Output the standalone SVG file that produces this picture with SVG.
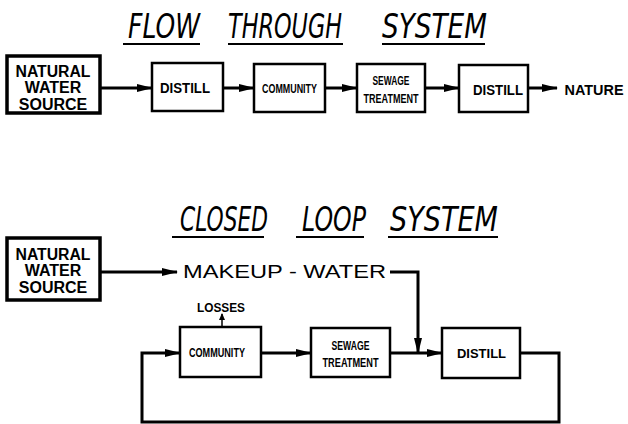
<svg xmlns="http://www.w3.org/2000/svg" width="628" height="424" viewBox="0 0 628 424">
<style>
.box{fill:#fff;stroke:#000;stroke-width:2.5}
.thick{stroke-width:3.5}
.lbl{font-family:"Liberation Sans",Arial,sans-serif;font-weight:bold;fill:#000;text-anchor:middle}
.title{font-family:"DejaVu Sans",sans-serif;font-style:italic;font-size:24px;fill:#000}
.ul{stroke:#000;stroke-width:2}
.ln{fill:none;stroke:#000;stroke-width:3}
</style>
<defs>
<marker id="ah" markerWidth="16" markerHeight="10" refX="15" refY="5" orient="auto" markerUnits="userSpaceOnUse">
<path d="M0,1 L16,5 L0,9 Z" fill="#000"/>
</marker>
<marker id="ahs" markerWidth="7" markerHeight="6" refX="6" refY="3" orient="auto" markerUnits="userSpaceOnUse">
<path d="M0,0 L7,3 L0,6 Z" fill="#000"/>
</marker>
</defs>
<g id="title1">
<g transform="scale(1,1.4)">
<text class="title" x="128" y="27.1" textLength="72" lengthAdjust="spacingAndGlyphs">FLOW</text>
<text class="title" x="228" y="27.1" textLength="114" lengthAdjust="spacingAndGlyphs">THROUGH</text>
<text class="title" x="382" y="27.1" textLength="105" lengthAdjust="spacingAndGlyphs">SYSTEM</text>
</g>
<line class="ul" x1="123" y1="44" x2="200" y2="44"/>
<line class="ul" x1="228" y1="44" x2="343" y2="44"/>
<line class="ul" x1="382" y1="44" x2="485" y2="44"/>
</g>
<g id="t_source">
<rect class="box thick" x="7" y="56" width="93" height="57"/>
<text class="lbl" font-size="16" x="53" y="77" textLength="75" lengthAdjust="spacingAndGlyphs">NATURAL</text>
<text class="lbl" font-size="16" x="53" y="93">WATER</text>
<text class="lbl" font-size="16" x="53" y="110">SOURCE</text>
</g>
<g id="t_distill1">
<rect class="box" x="152" y="63" width="71" height="48"/>
<text class="lbl" font-size="14" x="185" y="93" textLength="50" lengthAdjust="spacingAndGlyphs">DISTILL</text>
</g>
<g id="t_community">
<rect class="box" x="254" y="64" width="71" height="48"/>
<text class="lbl" font-size="13" x="289.5" y="93" textLength="55" lengthAdjust="spacingAndGlyphs">COMMUNITY</text>
</g>
<g id="t_sewage">
<rect class="box" x="357" y="64" width="68" height="48"/>
<text class="lbl" font-size="13" x="391" y="85" textLength="37" lengthAdjust="spacingAndGlyphs">SEWAGE</text>
<text class="lbl" font-size="13" x="391" y="103" textLength="55" lengthAdjust="spacingAndGlyphs">TREATMENT</text>
</g>
<g id="t_distill2">
<rect class="box" x="459" y="65" width="69" height="47"/>
<text class="lbl" font-size="14" x="498" y="95" textLength="50" lengthAdjust="spacingAndGlyphs">DISTILL</text>
</g>
<g id="t_nature">
<text class="lbl" font-size="15" x="594" y="95" textLength="59" lengthAdjust="spacingAndGlyphs">NATURE</text>
</g>
<g id="title2">
<g transform="scale(1,1.4)">
<text class="title" x="180" y="165" textLength="88" lengthAdjust="spacingAndGlyphs">CLOSED</text>
<text class="title" x="302" y="165" textLength="64" lengthAdjust="spacingAndGlyphs">LOOP</text>
<text class="title" x="390" y="165" textLength="108" lengthAdjust="spacingAndGlyphs">SYSTEM</text>
</g>
<line class="ul" x1="172" y1="237" x2="264" y2="237"/>
<line class="ul" x1="296" y1="237" x2="364" y2="237"/>
<line class="ul" x1="388" y1="237" x2="498" y2="237"/>
</g>
<g id="c_source">
<rect class="box thick" x="7" y="238" width="93" height="62"/>
<text class="lbl" font-size="16" x="53" y="260" textLength="75" lengthAdjust="spacingAndGlyphs">NATURAL</text>
<text class="lbl" font-size="16" x="53" y="276">WATER</text>
<text class="lbl" font-size="16" x="53" y="293">SOURCE</text>
</g>
<g id="c_makeup">
<text font-family="Liberation Sans,Arial,sans-serif" font-size="18" x="183" y="278" textLength="203" lengthAdjust="spacingAndGlyphs">MAKEUP - WATER</text>
</g>
<g id="c_losses">
<text class="lbl" font-size="12" x="221" y="312" textLength="48" lengthAdjust="spacingAndGlyphs">LOSSES</text>
</g>
<g id="c_community">
<rect class="box" x="180" y="327" width="81" height="50"/>
<text class="lbl" font-size="12" x="217" y="357" textLength="56" lengthAdjust="spacingAndGlyphs">COMMUNITY</text>
</g>
<g id="c_sewage">
<rect class="box" x="311" y="328" width="79" height="49"/>
<text class="lbl" font-size="12" x="350.5" y="350" textLength="38" lengthAdjust="spacingAndGlyphs">SEWAGE</text>
<text class="lbl" font-size="12" x="350.5" y="367" textLength="56" lengthAdjust="spacingAndGlyphs">TREATMENT</text>
</g>
<g id="c_distill">
<rect class="box" x="442" y="328" width="78" height="50"/>
<text class="lbl" font-size="13" x="481.5" y="358" textLength="49" lengthAdjust="spacingAndGlyphs">DISTILL</text>
</g>
<g id="connectors">
<line class="ln" x1="100" y1="88" x2="152" y2="88" marker-end="url(#ah)"/>
<line class="ln" x1="223" y1="88" x2="254" y2="88" marker-end="url(#ah)"/>
<line class="ln" x1="325" y1="88" x2="357" y2="88" marker-end="url(#ah)"/>
<line class="ln" x1="425" y1="88" x2="459" y2="88" marker-end="url(#ah)"/>
<line class="ln" x1="528" y1="88" x2="557" y2="88" marker-end="url(#ah)"/>
<line class="ln" x1="100" y1="272" x2="177" y2="272" marker-end="url(#ah)"/>
<polyline class="ln" points="390,272 418,272 418,353" marker-end="url(#ah)"/>
<line x1="222" y1="327" x2="222" y2="314" stroke="#000" stroke-width="1.5" marker-end="url(#ahs)"/>
<line class="ln" x1="261" y1="353" x2="311" y2="353" marker-end="url(#ah)"/>
<line class="ln" x1="390" y1="353" x2="442" y2="353" marker-end="url(#ah)"/>
<polyline class="ln" points="520,353 559,353 559,422 142,422 142,353 180,353" marker-end="url(#ah)"/>
</g>
</svg>
